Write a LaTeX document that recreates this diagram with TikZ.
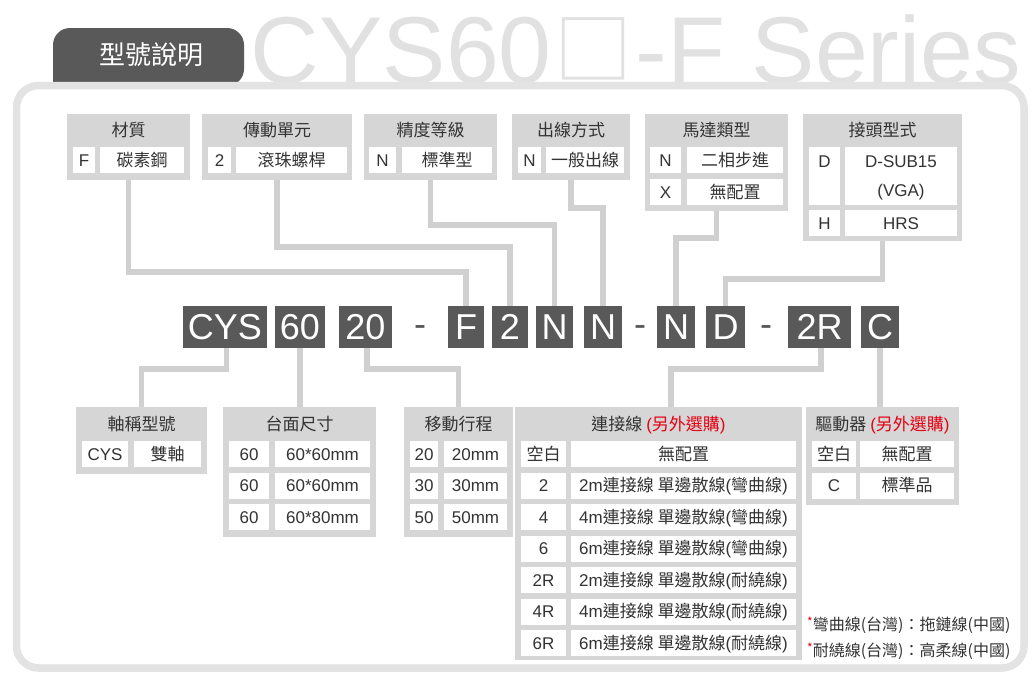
\documentclass[tikz,border=0pt]{standalone}
\usepackage{fontspec}
\setmainfont{Liberation Sans}
\newfontfamily\cjk{Noto Sans CJK TC}
\definecolor{dk}{HTML}{595959}
\definecolor{boxgray}{HTML}{D6D6D6}
\definecolor{conng}{HTML}{D0D0D0}
\definecolor{framec}{HTML}{E3E3E3}
\definecolor{ttl}{HTML}{E1E1E1}
\definecolor{txt}{HTML}{333333}
\definecolor{rd}{HTML}{E60012}
\tikzset{
  hbox/.style={fill=boxgray, inner sep=0pt, outer sep=0pt},
  wcell/.style={fill=white, inner sep=0pt, outer sep=0pt, text=txt, font=\fontsize{17}{20}\selectfont, text height=12.2pt, text depth=0pt},
  ccell/.style={wcell, font=\cjk\fontsize{17}{20}\selectfont},
  kbox/.style={fill=dk, inner sep=0pt, outer sep=0pt, text=white, font=\fontsize{36}{40}\selectfont, text height=25.8pt, text depth=0pt},
  dashsty/.style={inner sep=0pt, text=dk, font=\fontsize{36}{40}\selectfont, anchor=base},
  htext/.style={inner sep=0pt, text=txt, font=\cjk\fontsize{17}{20}\selectfont, text height=12.2pt, text depth=0pt},
  plain/.style={text=txt, inner sep=0pt, font=\fontsize{17}{20}\selectfont, text height=12.2pt, text depth=0pt},
  conn/.style={draw=conng, line width=5.5pt},
  notesty/.style={anchor=west, inner sep=0pt, text=txt, font=\cjk\fontsize{16}{18}\selectfont},
}
\newcommand\bx[7]{\node[#1, anchor=north west, minimum width={(#4)-(#2)}, minimum height={(#5)-(#3)}] (#6) at (#2,#3) {#7};}
\newcommand\rs{\textcolor{rd}{\raisebox{4pt}{\fontsize{12}{12}\selectfont *}}}
\newcommand\lp{{\fontspec{Liberation Sans}(}}
\newcommand\rp{{\fontspec{Liberation Sans})}}
\begin{document}
\begin{tikzpicture}[x=1pt,y=-1pt]
\useasboundingbox (0,0) rectangle (1035,680);
\fill[white] (0,0) rectangle (1035,680);
% title
\node[anchor=base west, inner sep=0pt, text=ttl, font=\fontsize{95}{100}\selectfont] (title) at (250.5,83) {CYS60\hspace{3pt}\raisebox{5pt}{\cjk\fontsize{78}{80}\selectfont □}\hspace{3pt}-F Series};
% tab
\fill[dk, rounded corners=17pt] (53,86) -- (53,28) -- (244,28) -- (244,86) [sharp corners] -- cycle;
\node[text=white, inner sep=0pt, font=\cjk\fontsize{26}{30}\selectfont] (tabt) at (151,55) {型號說明};
% frame
\draw[framec, line width=7.5pt, rounded corners=22pt] (16.5,85.5) rectangle (1024,668);

% code boxes
\bx{kbox}{183}{306}{267}{348}{kCYS}{CYS}
\bx{kbox}{275}{306}{325}{348}{k60}{60}
\bx{kbox}{339}{306}{392}{348}{k20}{20}
\node[dashsty] (d1) at (420,336.7) {-};
\bx{kbox}{448}{306}{484}{348}{kF}{F}
\bx{kbox}{492}{306}{528}{348}{k2}{2}
\bx{kbox}{536}{306}{573}{348}{kN1}{N}
\bx{kbox}{584}{306}{622}{348}{kN2}{N}
\node[dashsty] (d2) at (640,336.7) {-};
\bx{kbox}{657}{306}{695}{348}{kN3}{N}
\bx{kbox}{706}{306}{745}{348}{kD}{D}
\node[dashsty] (d3) at (766,336.7) {-};
\bx{kbox}{788}{306}{851}{348}{k2R}{2R}
\bx{kbox}{861}{306}{899}{348}{kC}{C}

% top boxes (containers)
\bx{hbox}{67}{114}{190}{180}{t1}{}
\bx{hbox}{202}{114}{352}{180}{t2}{}
\bx{hbox}{364}{114}{497}{180}{t3}{}
\bx{hbox}{512}{114}{630}{180}{t4}{}
\bx{hbox}{645}{114}{788}{211}{t5}{}
\bx{hbox}{803}{114}{962}{241}{t6}{}
% bottom boxes (containers)
\bx{hbox}{76}{407}{207}{474}{b1}{}
\bx{hbox}{223}{407}{376}{537}{b2}{}
\bx{hbox}{404}{407}{513}{537}{b3}{}
\bx{hbox}{515}{407}{802}{660}{b4}{}
\bx{hbox}{806}{407}{959}{505}{b5}{}

% connectors (top)
\draw[conn] (t1.south) -- (t1.south |- 0,272) -| (kF.north);
\draw[conn] (t2.south) -- (t2.south |- 0,247) -| (k2.north);
\draw[conn] (t3.south) -- (t3.south |- 0,225) -| (kN1.north);
\draw[conn] (t4.south) -- (t4.south |- 0,208) -| (kN2.north);
\draw[conn] (t5.south) -- (t5.south |- 0,238) -| (kN3.north);
\draw[conn] (t6.south) -- (t6.south |- 0,279) -| (kD.north);
% connectors (bottom)
\draw[conn] ([xshift=1.5pt]kCYS.south) -- ([xshift=1.5pt]kCYS.south |- 0,369) -| (b1.north);
\draw[conn] (k60.south) -- (k60.south |- b2.north);
\draw[conn] ([xshift=1.5pt]k20.south) -- ([xshift=1.5pt]k20.south |- 0,369) -| (b3.north);
\draw[conn] ([xshift=1.5pt]k2R.south) -- ([xshift=1.5pt]k2R.south |- 0,369) -| ([xshift=12.5pt]b4.north);
\draw[conn] (kC.south) -- (kC.south |- b5.north);

% top headers and cells
\node[htext] (h1) at (128.5,130.5) {材質};
\bx{wcell}{73}{147}{95}{173}{c1a}{F}
\bx{ccell}{100}{147}{184}{173}{c1b}{碳素鋼}

\node[htext] (h2) at (277,130.5) {傳動單元};
\bx{wcell}{208}{147}{231}{173}{c2a}{2}
\bx{ccell}{236}{147}{347}{173}{c2b}{滾珠螺桿}

\node[htext] (h3) at (430.5,130.5) {精度等級};
\bx{wcell}{369}{147}{396}{173}{c3a}{N}
\bx{ccell}{402}{147}{492}{173}{c3b}{標準型}

\node[htext] (h4) at (571,130.5) {出線方式};
\bx{wcell}{518}{147}{541}{173}{c4a}{N}
\bx{ccell}{546}{147}{624}{173}{c4b}{一般出線}

\node[htext] (h5) at (716.5,130.5) {馬達類型};
\bx{wcell}{650}{147}{681}{173}{c5a}{N}
\bx{ccell}{687}{147}{783}{173}{c5b}{二相步進}
\bx{wcell}{650}{179}{681}{205}{c5c}{X}
\bx{ccell}{687}{179}{783}{205}{c5d}{無配置}

\node[htext] (h6) at (882.5,130.5) {接頭型式};
\bx{hbox, fill=white}{809}{147}{840}{205}{c6a}{}
\node[plain] (c6at) at (824.5,161.5) {D};
\bx{hbox, fill=white}{845}{147}{957}{205}{c6b}{}
\node[plain] (c6bt) at (901,161.5) {D-SUB15};
\node[plain] (c6bu) at (901,190.5) {(VGA)};
\bx{wcell}{809}{210}{840}{236}{c6c}{H}
\bx{wcell}{845}{210}{957}{236}{c6d}{HRS}

% bottom headers and cells
\node[htext] (g1) at (141.5,424.5) {軸稱型號};
\bx{wcell}{82}{441}{128}{467}{e1a}{CYS}
\bx{ccell}{134}{441}{201}{467}{e1b}{雙軸}

\node[htext] (g2) at (299.5,424.5) {台面尺寸};
\bx{wcell}{229}{441}{269}{467}{e2a}{60}
\bx{wcell}{275}{441}{370}{467}{e2b}{60*60mm}
\bx{wcell}{229}{472.5}{269}{498.5}{e2c}{60}
\bx{wcell}{275}{472.5}{370}{498.5}{e2d}{60*60mm}
\bx{wcell}{229}{504}{269}{530}{e2e}{60}
\bx{wcell}{275}{504}{370}{530}{e2f}{60*80mm}

\node[htext] (g3) at (458.5,424.5) {移動行程};
\bx{wcell}{410}{441}{438}{467}{e3a}{20}
\bx{wcell}{444}{441}{507}{467}{e3b}{20mm}
\bx{wcell}{410}{472.5}{438}{498.5}{e3c}{30}
\bx{wcell}{444}{472.5}{507}{498.5}{e3d}{30mm}
\bx{wcell}{410}{504}{438}{530}{e3e}{50}
\bx{wcell}{444}{504}{507}{530}{e3f}{50mm}

\node[htext] (g4) at (658.5,424.5) {連接線 \textcolor{rd}{\lp 另外選購\rp}};
\bx{ccell}{521}{441}{566}{467}{e4a}{空白}
\bx{ccell}{571}{441}{796}{467}{e4b}{無配置}
\bx{wcell}{521}{472.5}{566}{498.5}{e4c}{2}
\bx{wcell}{571}{472.5}{796}{498.5}{e4d}{2m{\cjk 連接線 單邊散線}({\cjk 彎曲線})}
\bx{wcell}{521}{504}{566}{530}{e4e}{4}
\bx{wcell}{571}{504}{796}{530}{e4f}{4m{\cjk 連接線 單邊散線}({\cjk 彎曲線})}
\bx{wcell}{521}{535.5}{566}{561.5}{e4g}{6}
\bx{wcell}{571}{535.5}{796}{561.5}{e4h}{6m{\cjk 連接線 單邊散線}({\cjk 彎曲線})}
\bx{wcell}{521}{567}{566}{593}{e4i}{2R}
\bx{wcell}{571}{567}{796}{593}{e4j}{2m{\cjk 連接線 單邊散線}({\cjk 耐繞線})}
\bx{wcell}{521}{598.5}{566}{624.5}{e4k}{4R}
\bx{wcell}{571}{598.5}{796}{624.5}{e4l}{4m{\cjk 連接線 單邊散線}({\cjk 耐繞線})}
\bx{wcell}{521}{630}{566}{656}{e4m}{6R}
\bx{wcell}{571}{630}{796}{656}{e4n}{6m{\cjk 連接線 單邊散線}({\cjk 耐繞線})}

\node[htext] (g5) at (882.5,424.5) {驅動器 \textcolor{rd}{\lp 另外選購\rp}};
\bx{ccell}{812}{441}{856}{467}{e5a}{空白}
\bx{ccell}{860}{441}{954}{467}{e5b}{無配置}
\bx{wcell}{812}{472.5}{856}{498.5}{e5c}{C}
\bx{ccell}{860}{472.5}{954}{498.5}{e5d}{標準品}

% notes
\node[notesty] (n1) at (807,625) {\rs 彎曲線(台灣)：拖鏈線(中國)};
\node[notesty] (n2) at (807,651) {\rs 耐繞線(台灣)：高柔線(中國)};
\end{tikzpicture}
\end{document}
